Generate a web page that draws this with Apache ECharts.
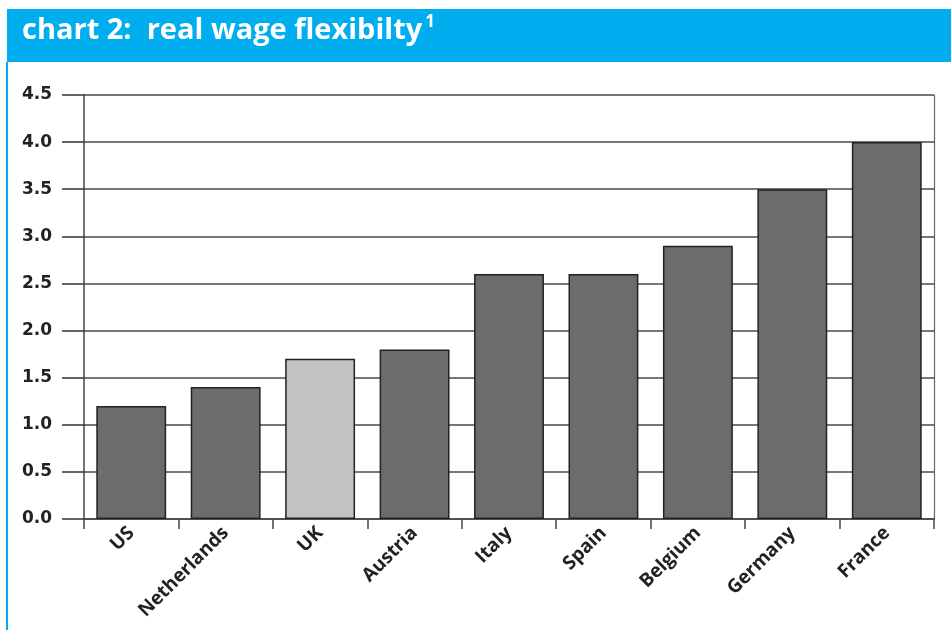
<!DOCTYPE html>
<html>
<head>
<meta charset="utf-8">
<script src="https://cdn.jsdelivr.net/npm/echarts@6/dist/echarts.min.js"></script>
<style>
  html, body { margin: 0; padding: 0; background: #ffffff; }
  #chart { width: 951px; height: 630px; }
</style>
</head>
<body>
<div id="chart"></div>
<script>
// Real wage flexibility by country
const countries = ['US', 'Netherlands', 'UK', 'Austria', 'Italy', 'Spain', 'Belgium', 'Germany', 'France'];
const flexibility = [1.2, 1.4, 1.7, 1.8, 2.6, 2.6, 2.9, 3.5, 4.0];
const highlighted = 'UK';
const yTicks = ['0.0', '0.5', '1.0', '1.5', '2.0', '2.5', '3.0', '3.5', '4.0', '4.5'];

const BLUE = '#00AEEF';
const chart = echarts.init(document.getElementById('chart'), null, { renderer: 'canvas' });

const barData = countries.map((c, i) => ({
  value: flexibility[i],
  itemStyle: { color: c === highlighted ? '#c2c2c2' : '#6c6c6c' }
}));

chart.setOption({
  animation: false,
  backgroundColor: '#ffffff',
  graphic: [
    { type: 'rect', shape: { x: 7, y: 9, width: 944, height: 53 }, style: { fill: BLUE }, silent: true },
    { type: 'rect', shape: { x: 6, y: 62, width: 2, height: 568 }, style: { fill: BLUE }, silent: true },
    {
      type: 'text', left: 22, top: 14,
      style: {
        text: '{t|chart 2:  real wage flexibilty}{s|1}',
        rich: {
          t: { fill: '#ffffff', fontFamily: 'Open Sans', fontWeight: 'bold', fontSize: 29 },
          s: { fill: '#ffffff', fontFamily: 'Open Sans', fontWeight: 'bold', fontSize: 17, verticalAlign: 'top', padding: [0, 0, 16, 3] }
        }
      }
    }
  ],
  grid: { left: 84, right: 17, top: 95, bottom: 111, containLabel: false },
  xAxis: {
    type: 'category',
    data: countries,
    boundaryGap: true,
    axisLine: { show: true, lineStyle: { color: '#444', width: 1.5 } },
    axisTick: { show: true, length: 10, alignWithLabel: false, lineStyle: { color: '#444', width: 1.5 } },
    axisLabel: {
      rotate: 45, margin: 11, color: '#222',
      fontFamily: 'Open Sans', fontWeight: 'bold', fontSize: 19
    },
    splitLine: { show: false }
  },
  yAxis: [
    {
      type: 'value', min: 0, max: 4.5, interval: 0.5,
      axisLine: { show: true, lineStyle: { color: '#444', width: 1.5 } },
      axisTick: { show: true, length: 22, lineStyle: { color: '#333', width: 1.5 } },
      axisLabel: {
        margin: 32, color: '#222', fontFamily: 'DejaVu Sans', fontWeight: 'bold', fontSize: 17,
        formatter: (v) => yTicks[Math.round(v / 0.5)]
      },
      splitLine: { show: true, lineStyle: { color: '#4a4a4a', width: 1.5 } }
    },
    {
      // right-hand frame line of the plot area
      type: 'value', min: 0, max: 4.5, interval: 0.5, position: 'right',
      axisLine: { show: true, lineStyle: { color: '#666', width: 1.2 } },
      axisTick: { show: false }, axisLabel: { show: false }, splitLine: { show: false }
    }
  ],
  series: [{
    type: 'bar',
    data: barData,
    barCategoryGap: '26%',
    itemStyle: { borderColor: '#222', borderWidth: 1.5 }
  }]
});
</script>
</body>
</html>
